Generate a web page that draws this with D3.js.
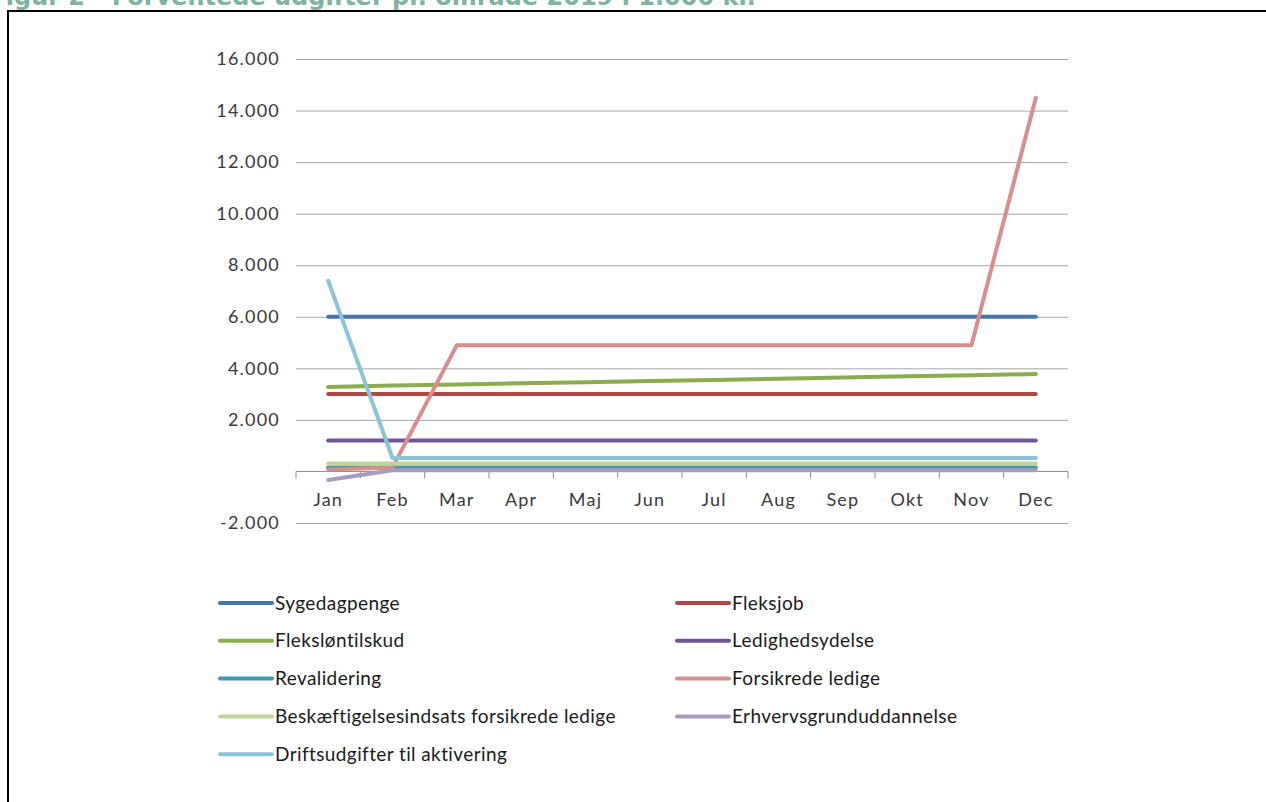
<!DOCTYPE html>
<html>
<head>
<meta charset="utf-8">
<script src="https://cdn.jsdelivr.net/npm/d3@7"></script>
<style>
  body { margin: 0; background: #fff; }
  svg { display: block; }
</style>
</head>
<body>
<svg id="chart" width="1266" height="802"></svg>
<script>
// forventede udgifter pr. omraade 2019, i 1.000 kr.
// one array per line

const months = ["Jan", "Feb", "Mar", "Apr", "Maj", "Jun", "Jul", "Aug", "Sep", "Okt", "Nov", "Dec"];

const yTicks = [-2000, 2000, 4000, 6000, 8000, 10000, 12000, 14000, 16000];

const sygedagpenge     = [6000, 6000, 6000, 6000, 6000, 6000, 6000, 6000, 6000, 6000, 6000, 6000];
const fleksjob         = [3000, 3000, 3000, 3000, 3000, 3000, 3000, 3000, 3000, 3000, 3000, 3000];
const flekslontilskud  = [3280, 3330, 3370, 3420, 3460, 3510, 3550, 3600, 3640, 3690, 3730, 3780];
const ledighedsydelse  = [1200, 1200, 1200, 1200, 1200, 1200, 1200, 1200, 1200, 1200, 1200, 1200];
const revalidering     = [150, 150, 150, 150, 150, 150, 150, 150, 150, 150, 150, 150];
const forsikredeLedige = [80, 150, 4900, 4900, 4900, 4900, 4900, 4900, 4900, 4900, 4900, 14500];
const beskaeftigelse   = [310, 310, 310, 310, 310, 310, 310, 310, 310, 310, 310, 310];
const erhvervsgrund    = [-330, 50, 50, 50, 50, 50, 50, 50, 50, 50, 50, 50];
const driftsudgifter   = [7400, 520, 520, 520, 520, 520, 520, 520, 520, 520, 520, 520];

const seriesNames = ["Sygedagpenge", "Fleksjob", "Fleksløntilskud", "Ledighedsydelse", "Revalidering",
    "Forsikrede ledige", "Beskæftigelsesindsats forsikrede ledige", "Erhvervsgrunduddannelse",
    "Driftsudgifter til aktivering"];
const seriesValues = [sygedagpenge, fleksjob, flekslontilskud, ledighedsydelse, revalidering,
    forsikredeLedige, beskaeftigelse, erhvervsgrund, driftsudgifter];
const seriesColors = ["#4674ab", "#ad4845", "#8bac4f", "#6f5593", "#4198af",
    "#d78e8c", "#bdd597", "#a99bbf", "#8cc3d6"];

let svg = d3.select("#chart");

let fontFam = "Lato, 'Open Sans', sans-serif";
let textCol = "#3a3a3a";

// plot area
let plotLeft = 296, plotRight = 1068, plotTop = 59, plotBottom = 523;

// title (clipped at top / left like the original)
svg.append("text")
    .attr("x", 756)
    .attr("y", 5)
    .attr("text-anchor", "end")
    .attr("font-family", "'DejaVu Sans', sans-serif")
    .attr("font-weight", "bold")
    .attr("font-size", 24)
    .attr("fill", "#7fb3a2")
    .text("Figur 2 - Forventede udgifter pr. område 2019 i 1.000 kr.");

// frame
svg.append("path")
    .attr("d", "M8,806 L8,11 L1270,11")
    .attr("fill", "none")
    .attr("stroke", "#000")
    .attr("stroke-width", 2);

// scales
let xBand = d3.scaleBand(months, [plotLeft, plotRight]);
let xPoint = d3.scalePoint(months, [plotLeft, plotRight]).padding(0.5);
let yScale = d3.scaleLinear([-2000, 16000], [plotBottom, plotTop]);

let locale = d3.formatLocale({decimal: ",", thousands: ".", grouping: [3], currency: ["", ""], minus: "-"});
let fmt = locale.format(",");

// gridlines + y labels
let yAxis = svg.append("g")
    .attr("transform", "translate(" + plotLeft + ",0)")
    .call(d3.axisLeft(yScale).tickValues(yTicks).tickSize(-(plotRight - plotLeft)).tickFormat(fmt).tickPadding(16));
yAxis.select(".domain").remove();
yAxis.selectAll(".tick line").attr("stroke", "#a6a6a6");
yAxis.selectAll(".tick text")
    .attr("font-family", fontFam)
    .attr("font-size", 18)
    .attr("letter-spacing", 1.2)
    .attr("fill", textCol);

// category axis at zero
let xAxis = svg.append("g")
    .attr("transform", "translate(0," + yScale(0) + ")");
xAxis.append("line")
    .attr("x1", plotLeft).attr("x2", plotRight)
    .attr("stroke", "#8c8c8c");
let bounds = months.map(m => xBand(m)).concat([plotRight]);
xAxis.selectAll(".tk")
    .data(bounds)
    .join("line")
    .attr("x1", d => d).attr("x2", d => d)
    .attr("y1", 0).attr("y2", 7)
    .attr("stroke", "#8c8c8c");
xAxis.selectAll(".lbl")
    .data(months)
    .join("text")
    .attr("x", d => xPoint(d))
    .attr("y", 35)
    .attr("text-anchor", "middle")
    .attr("font-family", fontFam)
    .attr("font-size", 18)
    .attr("letter-spacing", 1.2)
    .attr("fill", textCol)
    .text(d => d);

// lines
let line = d3.line()
    .x((d, i) => xPoint(months[i]))
    .y(d => yScale(d));

svg.append("g")
    .selectAll("path")
    .data(seriesValues)
    .join("path")
    .attr("d", d => line(d))
    .attr("fill", "none")
    .attr("stroke", (d, i) => seriesColors[i])
    .attr("stroke-width", 4)
    .attr("stroke-linecap", "round")
    .attr("stroke-linejoin", "round");

// legend, two columns
let legend = svg.append("g");
let items = legend.selectAll("g")
    .data(seriesNames)
    .join("g")
    .attr("transform", (d, i) => "translate(" + (i % 2 == 0 ? 218 : 675) + "," + (603 + Math.floor(i / 2) * 37.8) + ")");
items.append("line")
    .attr("x1", 2).attr("x2", 54)
    .attr("stroke", (d, i) => seriesColors[i])
    .attr("stroke-width", 4)
    .attr("stroke-linecap", "round");
items.append("text")
    .attr("x", 57)
    .attr("dy", "0.35em")
    .attr("font-family", fontFam)
    .attr("font-size", 19)
    .attr("letter-spacing", 0.4)
    .attr("fill", "#1a1a1a")
    .text(d => d);
</script>
</body>
</html>
